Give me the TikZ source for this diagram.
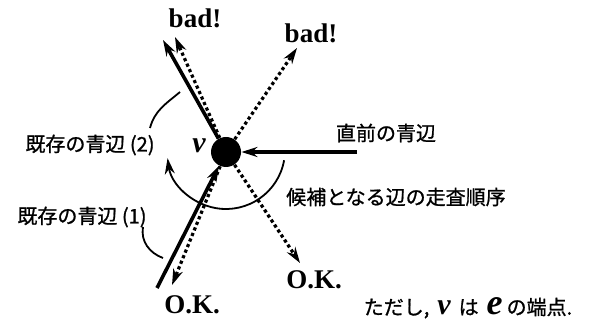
\documentclass[tikz,border=0pt]{standalone}
\usepackage{fontspec}
\setmainfont{Liberation Serif}
\newfontfamily\jpfont{Noto Sans CJK JP}[FakeBold=1]
\usetikzlibrary{arrows.meta, positioning}

\begin{document}
\begin{tikzpicture}[x=0.5pt, y=0.5pt,
    >={Stealth[length=8pt,width=5pt]},
    blueedge/.style={line width=1.8pt},
    candedge/.style={line width=1.6pt, dash pattern=on 1.6pt off 1.4pt},
    leader/.style={line width=0.9pt},
    jp/.style={font=\jpfont\fontsize{10}{12}\selectfont, inner sep=0pt},
    verdict/.style={font=\fontsize{13.5}{15}\selectfont\bfseries, inner sep=0pt}]
  \useasboundingbox (0,0) rectangle (589,332);
  \node[circle, fill, minimum size=15pt, inner sep=0pt] (v) at (226,180) {};
  \node[font=\fontsize{15}{16}\selectfont\bfseries\itshape, inner sep=0pt] (vlab) at (199,186) {v};
  % end points of the edges around v
  \coordinate (prev) at (357,180);
  \coordinate (old2) at (163,292);
  \coordinate (old1) at (157,44);
  \coordinate (tlb) at (175,295);
  \coordinate (trb) at (297,284);
  \coordinate (blk) at (172,47);
  \coordinate (brk) at (300,69);
  % blue edges: the previous one and the two existing ones
  \draw[blueedge, ->] (prev) -- (v);
  \draw[blueedge, ->] (v) -- (old2);
  \draw[blueedge, ->] (old1) -- (v);
  % candidate edges
  \foreach \e in {tlb, trb, blk, brk}
    \draw[candedge, ->] (v) -- (\e);
  % verdicts
  \node[verdict] (bad1) at (195,314) {bad!};
  \node[verdict] (bad2) at (311,299) {bad!};
  \node[verdict] (ok1) at (192,27) {O.K.};
  \node[verdict] (ok2) at (314,52) {O.K.};
  % scan order
  \draw[leader, ->] (226,182) ++(-10:59) arc[start angle=-10, end angle=-172, radius=59];
  % labels
  \node[jp] (prevlab) at (386,199) {直前の青辺};
  \node[jp] (lab2) at (90,187) {既存の青辺 (2)};
  \node[jp] (lab1) at (82,115) {既存の青辺 (1)};
  \node[jp] (order) at (396,135) {候補となる辺の走査順序};
  \node[jp] (note) at (468,24) {ただし,\hspace{4pt}{\rmfamily\bfseries\itshape\fontsize{15}{16}\selectfont v}\hspace{4pt}は\hspace{4pt}{\rmfamily\bfseries\itshape\fontsize{18}{16}\selectfont e}\hspace{2pt}の端点.};
  \draw[leader] (150,204) to[out=75, in=-140] (180,240);
  \draw[leader] (143,105) to[out=-100, in=160] (163,74);
\end{tikzpicture}
\end{document}
